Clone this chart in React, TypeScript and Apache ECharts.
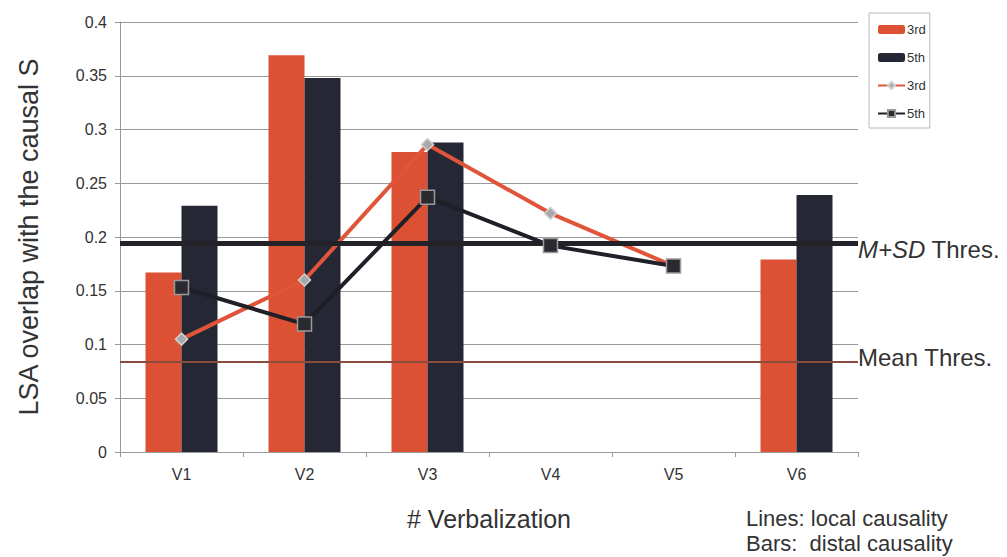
import React, { useEffect, useRef } from "react";
import * as echarts from "echarts";

const categories = ["V1", "V2", "V3", "V4", "V5", "V6"];
const bars3rd = [0.167, 0.369, 0.279, null, null, 0.179];
const bars5th = [0.229, 0.348, 0.288, null, null, 0.239];
const line3rd = [0.105, 0.16, 0.286, 0.222, 0.173, null];
const line5th = [0.153, 0.119, 0.237, 0.192, 0.173, null];
const yTicks = [0, 0.05, 0.1, 0.15, 0.2, 0.25, 0.3, 0.35, 0.4];
const meanThres = 0.084;
const msdThres = 0.194;
const noteLines = ["Lines: local causality", "Bars:  distal causality"];

const RED = "#dc5034";
const DARK = "#262734";
const FONT = "Liberation Sans, Arial, sans-serif";

export default function App() {
  const ref = useRef<HTMLDivElement>(null);
  useEffect(() => {
    const chart = echarts.init(ref.current!, null, { renderer: "svg" });
    chart.setOption({
      animation: false,
      backgroundColor: "#ffffff",
      textStyle: { fontFamily: FONT },
      grid: { left: 120, right: 149, top: 22, bottom: 105 },
      legend: {
        orient: "vertical",
        left: 869,
        top: 13,
        padding: [10, 4, 8, 8],
        itemGap: 15,
        itemWidth: 27,
        itemHeight: 9,
        borderColor: "#b8b8b8",
        borderWidth: 1,
        backgroundColor: "#fff",
        textStyle: { fontSize: 13, color: "#333", fontFamily: FONT, padding: [0, 0, 0, -3] },
        formatter: (name: string) => name.split(" ")[0],
        data: ["3rd bars", "5th bars", "3rd lines", "5th lines"],
      },
      xAxis: {
        type: "category",
        data: categories,
        boundaryGap: true,
        axisLine: { lineStyle: { color: "#999", width: 1 } },
        axisTick: { show: true, length: 5, lineStyle: { color: "#999" } },
        axisLabel: { fontSize: 16, color: "#333", margin: 14 },
        name: "# Verbalization",
        nameLocation: "middle",
        nameGap: 54,
        nameTextStyle: { fontSize: 25, color: "#333" },
      },
      yAxis: {
        type: "value",
        min: 0,
        max: 0.4,
        interval: 0.05,
        axisLine: { show: true, lineStyle: { color: "#999", width: 1 } },
        axisTick: { show: true, length: 5, lineStyle: { color: "#999" } },
        axisLabel: {
          fontSize: 16,
          color: "#333",
          margin: 13,
          formatter: (v: number) => {
            const t = yTicks.find((x) => Math.abs(x - v) < 1e-9);
            return String(t !== undefined ? t : v);
          },
        },
        splitLine: { show: true, lineStyle: { color: "#9a9a9a", width: 1 } },
        name: "LSA overlap with the causal S",
        nameLocation: "middle",
        nameGap: 78,
        nameTextStyle: { fontSize: 27, color: "#333" },
      },
      series: [
        {
          name: "3rd bars",
          type: "bar",
          data: bars3rd,
          barWidth: 36,
          barGap: "0%",
          itemStyle: { color: RED },
          z: 2,
          markLine: {
            silent: true,
            symbol: "none",
            precision: 3,
            data: [
              {
                yAxis: msdThres,
                lineStyle: { color: "#222228", width: 5, type: "solid" },
                label: {
                  show: true,
                  position: "end",
                  distance: 0,
                  formatter: "{i|M+SD} Thres.",
                  fontSize: 24,
                  color: "#333",
                  fontFamily: FONT,
                  offset: [0, 6],
                  rich: {
                    i: { fontSize: 24, fontStyle: "italic", color: "#333", fontFamily: FONT },
                  },
                },
              },
              {
                yAxis: meanThres,
                lineStyle: { color: "#8b4a3c", width: 2, type: "solid" },
                label: {
                  show: true,
                  position: "end",
                  distance: 0,
                  formatter: "Mean Thres.",
                  fontSize: 24,
                  color: "#333",
                  fontFamily: FONT,
                  offset: [0, -4],
                },
              },
            ],
          },
        },
        {
          name: "5th bars",
          type: "bar",
          data: bars5th,
          barWidth: 36,
          barGap: "0%",
          itemStyle: { color: DARK },
          z: 2,
        },
        {
          name: "3rd lines",
          type: "line",
          data: line3rd,
          z: 4,
          lineStyle: { color: "#e0553a", width: 4 },
          itemStyle: { color: "#a8a8a8", borderColor: "#d0d0d0", borderWidth: 1.5 },
          symbol: "diamond",
          symbolSize: 12,
          showAllSymbol: true,
        },
        {
          name: "5th lines",
          type: "line",
          data: line5th,
          z: 5,
          lineStyle: { color: "#1f1f28", width: 4 },
          itemStyle: { color: "#2a2a30", borderColor: "#9a9a9a", borderWidth: 1.5 },
          symbol: "rect",
          symbolSize: 14,
          showAllSymbol: true,
        },
      ],
      graphic: noteLines.map((t, i) => ({
        type: "text",
        left: 746,
        top: 507 + i * 25,
        style: {
          text: t,
          fontSize: 22,
          fill: "#333",
          fontFamily: FONT,
        },
      })),
    });
    return () => chart.dispose();
  }, []);
  return <div ref={ref} style={{ width: 1007, height: 557, position: "absolute", left: 0, top: 0 }} />;
}
